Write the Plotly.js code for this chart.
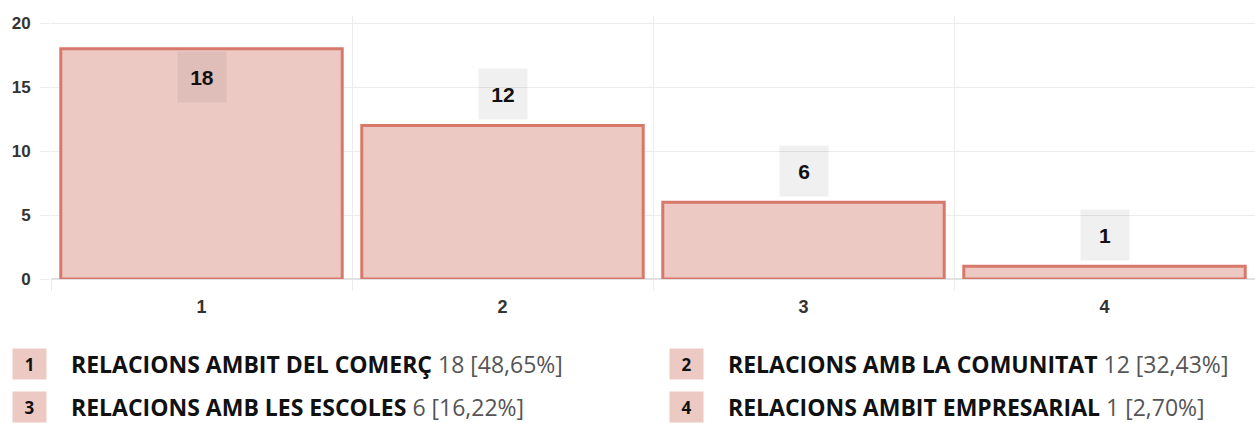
<!DOCTYPE html>
<html><head><meta charset="utf-8">
<script src="https://cdn.plot.ly/plotly-3.0.1.min.js"></script>
<style>html,body{margin:0;padding:0;background:#fff}#chart{width:1255px;height:423px}</style>
</head><body><div id="chart"></div>
<script>
const categories = ["1", "2", "3", "4"];
const values = [18, 12, 6, 1];
const legendNames = ["RELACIONS AMBIT DEL COMERÇ", "RELACIONS AMB LA COMUNITAT", "RELACIONS AMB LES ESCOLES", "RELACIONS AMBIT EMPRESARIAL"];
const yTicks = [0, 5, 10, 15, 20];

const yMax = 20.55;
const total = values.reduce((a, b) => a + b, 0);
const pct = v => (v / total * 100).toFixed(2).replace('.', ',') + '%';

const trace = {
  type: 'bar', x: categories, y: values,
  marker: {color: '#edc9c4', line: {color: '#d8786a', width: 3}},
  hoverinfo: 'none'
};

const annotations = [];
values.forEach((v, i) => {
  const inside = v + 4.3 > yMax;
  annotations.push({
    x: i, y: v, xref: 'x', yref: 'y', text: '<b>' + v + '</b>',
    showarrow: false, yanchor: inside ? 'top' : 'bottom', yshift: inside ? -2 : 5,
    width: 46, height: 48, bgcolor: 'rgba(0,0,0,0.06)',
    font: {family: 'Liberation Sans, Arial, sans-serif', size: 21, color: '#111'}
  });
});
// legend below
const colX = [12, 669];
const rowY = [364, 407];
values.forEach((v, i) => {
  const col = i % 2, row = Math.floor(i / 2);
  annotations.push({
    x: colX[col], y: rowY[row], xref: 'paper', yref: 'paper', text: '<b>' + categories[i] + '</b>',
    showarrow: false, xanchor: 'left', yanchor: 'middle', width: 31, height: 28,
    bgcolor: '#edc9c4', font: {family: 'Open Sans, sans-serif', size: 17, color: '#111'}
  });
  annotations.push({
    x: colX[col] + 58, y: rowY[row], xref: 'paper', yref: 'paper',
    text: '<b>' + legendNames[i] + '</b><span style="color:#555"> ' + v + ' [' + pct(v) + ']</span>',
    showarrow: false, xanchor: 'left', yanchor: 'middle', borderpad: 0,
    font: {family: 'Open Sans, sans-serif', size: 23, color: '#111'}
  });
});
// convert pixel legend positions to paper coordinates
const W = 1255, H = 423, mL = 51, mR = 0, mT = 16, mB = 144;
annotations.forEach(a => {
  if (a.xref === 'paper') {
    a.x = (a.x - mL) / (W - mL - mR);
    a.y = (H - mB - a.y) / (H - mT - mB);
  }
});

const layout = {
  width: W, height: H,
  margin: {l: mL, r: mR, t: mT, b: mB, pad: 0},
  paper_bgcolor: '#fff', plot_bgcolor: '#fff',
  bargap: 0.065, showlegend: false,
  xaxis: {
    type: 'category', range: [-0.5, 3.5], tickson: 'boundaries', showgrid: true, gridcolor: '#ececec', gridwidth: 1,
    ticks: 'outside', ticklen: 11, tickcolor: '#ececec', showline: false, zeroline: false,
    tickfont: {family: 'Liberation Sans, Arial, sans-serif', size: 18, color: '#333', weight: 'bold'},
    ticklabelstandoff: 15
  },
  yaxis: {
    range: [0, yMax], tickvals: yTicks, showgrid: true, gridcolor: '#ececec', gridwidth: 1,
    ticks: 'outside', ticklen: 10, tickcolor: '#ececec', zeroline: true, zerolinecolor: '#e2e2e2', zerolinewidth: 2,
    showline: false,
    tickfont: {family: 'Liberation Sans, Arial, sans-serif', size: 17, color: '#333', weight: 'bold'},
    ticklabelstandoff: 6
  },
  annotations: annotations
};

Plotly.newPlot('chart', [trace], layout, {displayModeBar: false, staticPlot: true});
</script>
</body></html>
